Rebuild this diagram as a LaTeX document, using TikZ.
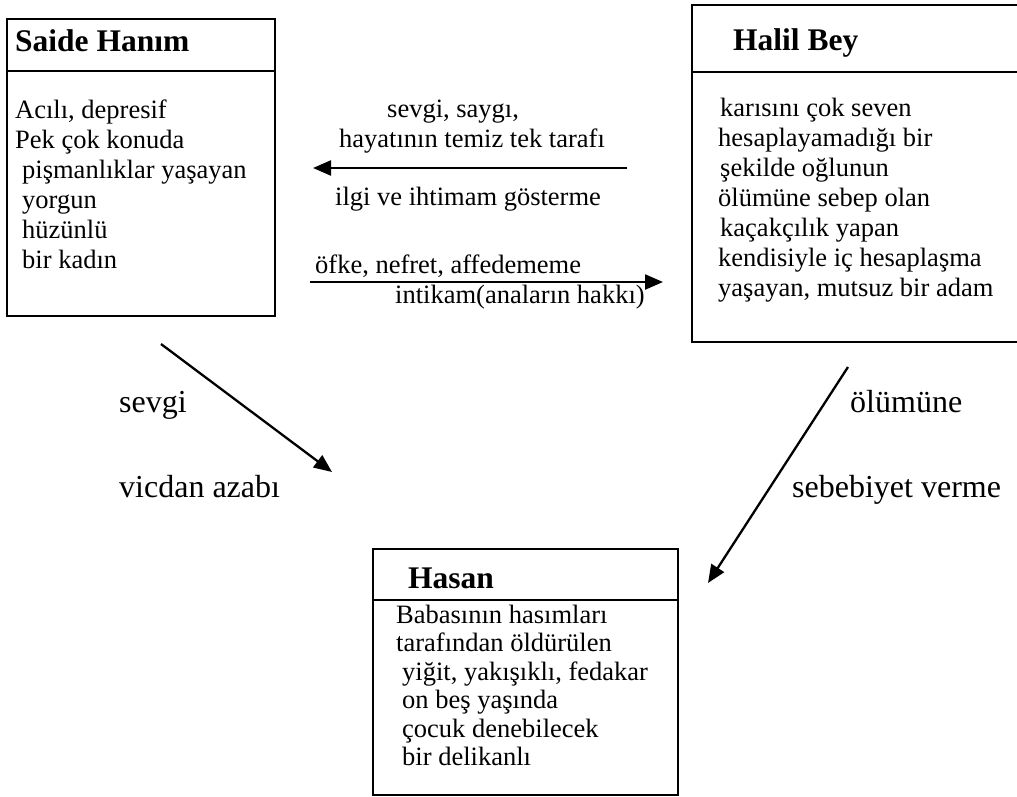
\documentclass[tikz,border=0pt]{standalone}
\usepackage{fontspec}
\setmainfont{Liberation Serif}
\usetikzlibrary{arrows.meta}
\newcommand\txtfont{\fontsize{26.5}{28.5}\selectfont}
\newcommand\lblfont{\fontsize{32}{36}\selectfont}
\newcommand\hdfont{\fontsize{31.5}{36}\selectfont\bfseries}
\tikzset{
  boxline/.style={black, line width=2pt},
  rel/.style={black, line width=2.3pt, -{Triangle[length=18pt,width=15pt]}},
  txt/.style={inner sep=0pt, anchor=base west, font=\txtfont},
  head/.style={inner sep=0pt, anchor=base west, font=\hdfont},
  lbl/.style={inner sep=0pt, anchor=base west, font=\lblfont},
}
\begin{document}
\begin{tikzpicture}[x=1pt, y=-1pt]
        \useasboundingbox (0,0) rectangle (1017,796);
        % Saide Hanim
        \draw [boxline] (7,19) rectangle (275,316);
        \draw [boxline] (7,71) -- (275,71);
        \node [head] at (15,51) (SH) {Saide Hanım};
        \foreach \dx/\lab [count=\i] in {15/{Acılı, depresif}, 15/{Pek çok konuda}, 22/{pişmanlıklar yaşayan}, 22/{yorgun}, 22/{hüzünlü}, 22/{bir kadın}}
            \node [txt] at (\dx, 88+30*\i) (S\i) {\lab};
        % Halil Bey
        \draw [boxline] (1017,5) -- (692,5) -- (692,342) -- (1017,342);
        \draw [boxline] (692,72) -- (1017,72);
        \node [head] at (733,50) (HB) {Halil Bey};
        \foreach \dx/\lab [count=\i] in {720/{karısını çok seven}, 718/{hesaplayamadığı bir}, 720/{şekilde oğlunun}, 718/{ölümüne sebep olan}, 720/{kaçakçılık yapan}, 718/{kendisiyle iç hesaplaşma}, 718/{yaşayan, mutsuz bir adam}}
            \node [txt] at (\dx, 86+30*\i) (H\i) {\lab};
        % Hasan
        \draw [boxline] (373,549) rectangle (678,795);
        \draw [boxline] (373,600) -- (678,600);
        \node [head] at (408,588) (HS) {Hasan};
        \foreach \dx/\lab [count=\i] in {396/{Babasının hasımları}, 396/{tarafından öldürülen}, 402/{yiğit, yakışıklı, fedakar}, 402/{on beş yaşında}, 402/{çocuk denebilecek}, 402/{bir delikanlı}}
            \node [txt] at (\dx, 594.5+28.5*\i) (K\i) {\lab};
        % relations between the two
        \node [txt] at (387,117) (L1) {sevgi, saygı,};
        \node [txt] at (339,147) (L2) {hayatının temiz tek tarafı};
        \node [txt] at (335,205) (L3) {ilgi ve ihtimam gösterme};
        \node [txt] at (315,273) (L4) {öfke, nefret, affedememe};
        \node [txt] at (395,303) (L5) {intikam(anaların hakkı)};
        \coordinate (A1) at (627,168);
        \coordinate (A2) at (313,168);
        \coordinate (B1) at (310,282);
        \coordinate (B2) at (663,282);
        \draw [rel] (A1) -- (A2);
        \draw [rel] (B1) -- (B2);
        % towards Hasan
        \node [lbl] at (119,412) (D1) {sevgi};
        \node [lbl] at (119,497) (D2) {vicdan azabı};
        \node [lbl] at (850,412) (D3) {ölümüne};
        \node [lbl] at (792,497) (D4) {sebebiyet verme};
        \coordinate (C1) at (161,344);
        \coordinate (C2) at (332,472);
        \coordinate (E1) at (848,367);
        \coordinate (E2) at (708,583);
        \draw [rel] (C1) -- (C2);
        \draw [rel] (E1) -- (E2);
\end{tikzpicture}
\end{document}
